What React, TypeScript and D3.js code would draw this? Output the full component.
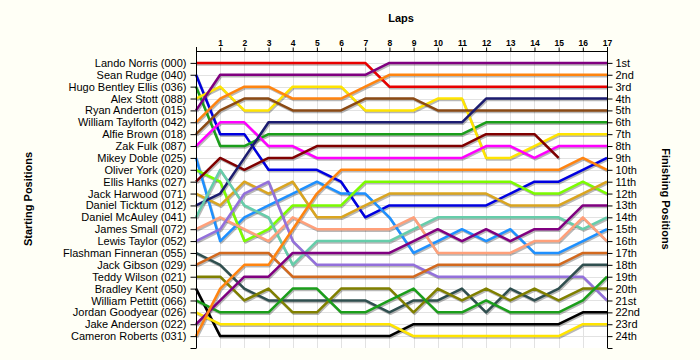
import React, { useEffect, useRef } from 'react';
import * as d3 from 'd3';

// Starting grid (top to bottom)
const drivers = [
  'Lando Norris (000)', 'Sean Rudge (040)', 'Hugo Bentley Ellis (036)', 'Alex Stott (088)',
  'Ryan Anderton (015)', 'William Taylforth (042)', 'Alfie Brown (018)', 'Zak Fulk (087)',
  'Mikey Doble (025)', 'Oliver York (020)', 'Ellis Hanks (027)', 'Jack Harwood (071)',
  'Daniel Ticktum (012)', 'Daniel McAuley (041)', 'James Small (072)', 'Lewis Taylor (052)',
  'Flashman Finneran (055)', 'Jack Gibson (029)', 'Teddy Wilson (021)', 'Bradley Kent (050)',
  'William Pettitt (066)', 'Jordan Goodyear (026)', 'Jake Anderson (022)', 'Cameron Roberts (031)',
];

const finishLabels = [
  '1st', '2nd', '3rd', '4th', '5th', '6th', '7th', '8th', '9th', '10th', '11th', '12th',
  '13th', '14th', '15th', '16th', '17th', '18th', '19th', '20th', '21st', '22nd', '23rd', '24th',
];

const lapTicks = [1, 2, 3, 4, 5, 6, 7, 8, 9, 10, 11, 12, 13, 14, 15, 16, 17];

// position at lap 0..17
const norris = [1, 1, 1, 1, 1, 1, 1, 1, 3, 3, 3, 3, 3, 3, 3, 3, 3, 3];
const rudge = [2, 7, 7, 10, 10, 10, 11, 14, 13, 13, 13, 13, 13, 12, 11, 11, 10, 9];
const ellis = [3, 8, 8, 7, 7, 7, 7, 7, 7, 7, 7, 7, 6, 6, 6, 6, 6, 6];
const stott = [4, 3, 5, 5, 3, 3, 3, 5, 5, 5, 4, 4, 9, 9, 8, 7, 7, 7];
const anderton = [5, 2, 2, 2, 2, 2, 2, 2, 1, 1, 1, 1, 1, 1, 1, 1, 1, 1];
const taylforth = [6, 4, 3, 3, 4, 4, 4, 3, 2, 2, 2, 2, 2, 2, 2, 2, 2, 2];
const brown = [7, 5, 4, 4, 5, 5, 5, 4, 4, 4, 5, 5, 5, 5, 5, 5, 5, 5];
const fulk = [8, 6, 6, 8, 8, 9, 9, 9, 9, 9, 9, 9, 8, 8, 9, 8, 8, 8];
const doble = [9, 16, 14, 13, 12, 11, 12, 12, 14, 17, 16, 15, 16, 15, 17, 17, 16, 15];
const york = [10, 11, 16, 15, 13, 13, 13, 11, 11, 11, 11, 11, 11, 11, 12, 12, 11, 12];
const hanks = [11, 9, 10, 9, 9, 8, 8, 8, 8, 8, 8, 8, 7, 7, 7, 9];
const harwood = [12, 13, 11, 12, 11, 14, 14, 13, 12, 12, 12, 12, 12, 13, 13, 13, 12, 11];
const ticktum = [13, 12, 9, 6, 6, 6, 6, 6, 6, 6, 6, 6, 4, 4, 4, 4, 4, 4];
const mcauley = [14, 10, 13, 14, 18, 16, 16, 16, 16, 15, 14, 14, 14, 14, 14, 14, 15, 14];
const small = [15, 14, 15, 16, 14, 15, 15, 15, 15, 14, 17, 17, 17, 17, 16, 16, 14, 16];
const taylor = [16, 15, 12, 11, 16, 18, 18, 18, 18, 18, 19, 19, 19, 19, 19, 19, 19, 21];
const finneran = [17, 18, 20, 21, 21, 21, 21, 21, 22, 21, 21, 20, 22, 20, 21, 20, 18, 18];
const gibson = [18, 17, 17, 17, 19, 19, 19, 19, 19, 19, 18, 18, 18, 18, 18, 18, 17, 17];
const wilson = [19, 19, 21, 20, 22, 22, 20, 20, 20, 22, 20, 21, 20, 21, 20, 21, 20, 20];
const kent = [20, 24, 24, 24, 24, 24, 24, 24, 24, 23, 23, 23, 23, 23, 23, 23, 22, 22];
const pettitt = [21, 22, 22, 22, 20, 20, 22, 22, 21, 20, 22, 22, 21, 22, 22, 22, 21, 19];
const goodyear = [22, 23, 23, 23, 23, 23, 23, 23, 23, 24, 24, 24, 24, 24, 24, 24, 23, 23];
const anderson = [23, 21, 19, 19, 17, 17, 17, 17, 17, 16, 15, 16, 15, 16, 15, 15, 13, 13];
const roberts = [24, 20, 18, 18, 15, 12, 10, 10, 10, 10, 10, 10, 10, 10, 10, 10, 9, 10];

const series = [
  norris, rudge, ellis, stott, anderton, taylforth, brown, fulk, doble, york, hanks, harwood,
  ticktum, mcauley, small, taylor, finneran, gibson, wilson, kent, pettitt, goodyear, anderson, roberts,
];

const colors = [
  '#e80000', '#0000e0', '#1b9e1b', '#ffe400', '#800080', '#ff8410', '#8b4a14', '#ff00ff',
  '#1e90ff', '#7cfc00', '#800000', '#daa520', '#1c1c70', '#66cdaa', '#ffa07a', '#9370db',
  '#2f4f4f', '#d2691e', '#808000', '#000000', '#1b9e1b', '#ffe400', '#800080', '#ff8410',
];

const W = 700;
const H = 360;

const LapChart: React.FC = () => {
  const svgRef = useRef<SVGSVGElement>(null);

  useEffect(() => {
    if (!svgRef.current) return;
    const svg = d3.select(svgRef.current);
    svg.selectAll('*').remove();

    const left = 196, right = 607, top = 51, bottom = 348;
    const font = 'Liberation Sans, Arial, sans-serif';

    const x = d3.scaleLinear().domain([0, 17]).range([left, right]);
    const y = d3.scaleLinear().domain([0, 25]).range([top, bottom]);
    const positions = d3.range(1, 25);

    svg.append('rect').attr('width', W).attr('height', H).attr('fill', '#fffff6');
    svg.append('rect')
      .attr('x', left).attr('y', top)
      .attr('width', right - left).attr('height', bottom - top)
      .attr('fill', '#ffffff');

    // grid
    const grid = svg.append('g').attr('stroke', '#e2e2e2').attr('stroke-width', 1);
    d3.range(1, 18).forEach(l => {
      grid.append('line')
        .attr('x1', Math.round(x(l)) + 0.5).attr('x2', Math.round(x(l)) + 0.5)
        .attr('y1', top).attr('y2', bottom);
    });
    positions.forEach(p => {
      grid.append('line')
        .attr('x1', left).attr('x2', right)
        .attr('y1', Math.round(y(p)) + 0.5).attr('y2', Math.round(y(p)) + 0.5);
    });

    // lines with shadow
    const line = d3.line<number>()
      .x((_, i) => x(i))
      .y(d => y(d));

    const shadows = svg.append('g').attr('transform', 'translate(1,1.5)');
    series.forEach(s => {
      shadows.append('path')
        .attr('d', line(s))
        .attr('fill', 'none')
        .attr('stroke', '#000')
        .attr('stroke-opacity', 0.28)
        .attr('stroke-width', 2.5)
        .attr('stroke-linejoin', 'round');
    });
    series.forEach((s, i) => {
      svg.append('path')
        .attr('d', line(s))
        .attr('fill', 'none')
        .attr('stroke', colors[i])
        .attr('stroke-width', 2.5)
        .attr('stroke-linejoin', 'round');
    });

    // axes
    const axisStyle = (g: d3.Selection<SVGGElement, unknown, null, undefined>) => {
      g.select('.domain').attr('stroke', '#000');
      g.selectAll('.tick line').attr('stroke', '#000');
      g.selectAll('.tick text').attr('fill', '#000').attr('font-family', font);
    };

    svg.append('g')
      .attr('transform', `translate(${left + 0.5},0)`)
      .call(d3.axisLeft(y).tickValues(d3.range(1, 26)).tickSize(6).tickSizeOuter(0)
        .tickFormat(d => drivers[(d as number) - 1] ?? ''))
      .call(axisStyle)
      .call(g => g.select('.domain').attr('d', `M0,${top - 4}V${bottom}`))
      .call(g => g.selectAll('.tick text').attr('font-size', '11px').attr('x', -10));

    svg.append('g')
      .attr('transform', `translate(${right + 0.5},0)`)
      .call(d3.axisRight(y).tickValues(d3.range(1, 26)).tickSize(5).tickSizeOuter(0)
        .tickFormat(d => finishLabels[(d as number) - 1] ?? ''))
      .call(axisStyle)
      .call(g => g.select('.domain').attr('d', `M0,${top - 4}V${bottom}`))
      .call(g => g.selectAll('.tick text').attr('font-size', '11px').attr('x', 8));

    svg.append('g')
      .attr('transform', `translate(0,${top + 0.5})`)
      .call(d3.axisTop(x).tickValues(lapTicks).tickSize(4).tickSizeOuter(0).tickFormat(d3.format('d')))
      .call(axisStyle)
      .call(g => g.select('.domain').attr('d', `M${left},0H${right}`))
      .call(g => g.selectAll('.tick text').attr('font-size', '8.5px').attr('font-weight', 'bold').attr('y', -6));

    // titles
    svg.append('text')
      .attr('x', 401).attr('y', 22)
      .attr('text-anchor', 'middle')
      .attr('font-family', font).attr('font-size', '11px').attr('font-weight', 'bold')
      .text('Laps');

    svg.append('text')
      .attr('transform', 'translate(32,199) rotate(-90)')
      .attr('text-anchor', 'middle')
      .attr('font-family', font).attr('font-size', '11px').attr('font-weight', 'bold')
      .text('Starting Positions');

    svg.append('text')
      .attr('transform', 'translate(662,199) rotate(90)')
      .attr('text-anchor', 'middle')
      .attr('font-family', font).attr('font-size', '11px').attr('font-weight', 'bold')
      .text('Finishing Positions');
  }, []);

  return <svg ref={svgRef} width={W} height={H} style={{ display: 'block' }} />;
};

export default function App() {
  return (
    <div style={{ position: 'absolute', left: 0, top: 0 }}>
      <LapChart />
    </div>
  );
}
